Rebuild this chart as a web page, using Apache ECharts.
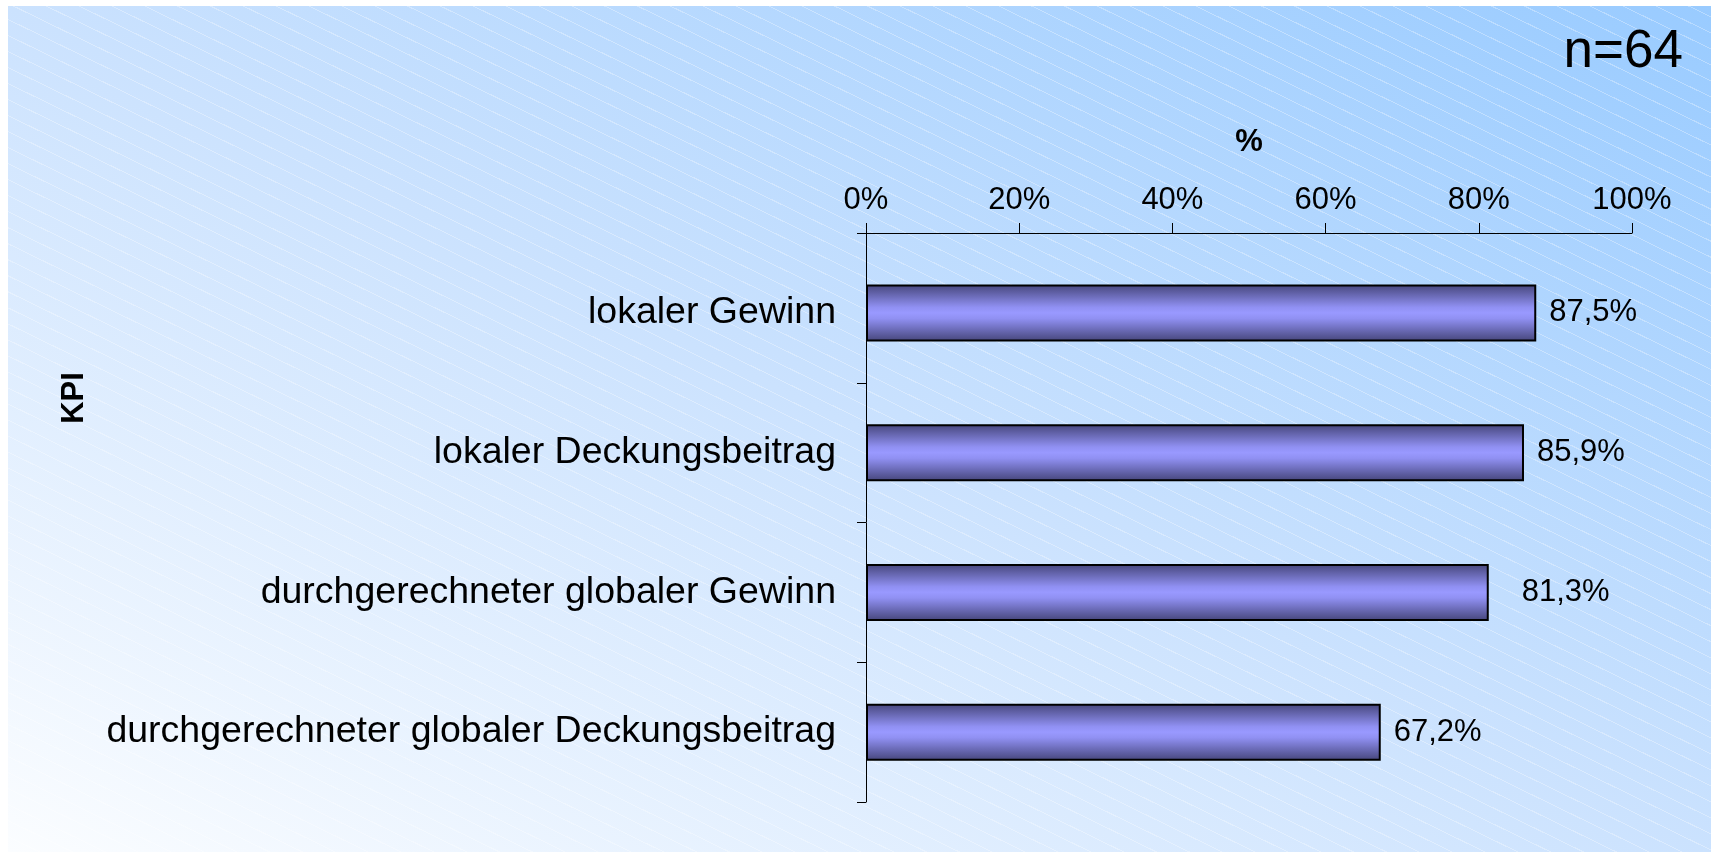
<!DOCTYPE html>
<html>
<head>
<meta charset="utf-8">
<script src="https://cdn.jsdelivr.net/npm/echarts@6/dist/echarts.min.js"></script>
<style>
  html, body { margin: 0; padding: 0; background: #fff; }
  #wrap { position: relative; width: 1712px; height: 852px; }
  #panel {
    position: absolute; left: 8px; top: 6px; right: 1px; bottom: 0;
    background:
      repeating-linear-gradient(26deg, rgba(255,255,255,0) 0 13.4px, rgba(255,255,255,0.3) 13.4px 14.4px),
      linear-gradient(to top right, #fbfdff 0%, #cbe2fe 50%, #99cbff 100%);
  }
  #chart { position: absolute; left: 0; top: 0; width: 1712px; height: 852px; }
</style>
</head>
<body>
<div id="wrap">
  <div id="panel"></div>
  <div id="chart"></div>
</div>
<script>
// KPI-Anteile, n=64
const categories = [
  "lokaler Gewinn",
  "lokaler Deckungsbeitrag",
  "durchgerechneter globaler Gewinn",
  "durchgerechneter globaler Deckungsbeitrag",
];
const values = [87.5, 85.9, 81.3, 67.2];
const sampleText = "n=64";
const FONT = "'Liberation Sans', Arial, sans-serif";

const gridLeft = 866, gridTop = 243, axisOffset = 10;

const chart = echarts.init(document.getElementById("chart"));

chart.setOption({
  backgroundColor: "transparent",
  animation: false,
  textStyle: { fontFamily: FONT, color: "#000" },
  graphic: [
    {
      type: "text",
      right: 29,
      top: 26,
      style: { text: sampleText, font: "53px " + FONT, fill: "#000" },
    },
    {
      // Achsentitel KPI
      type: "text",
      x: 74,
      y: 398,
      rotation: Math.PI / 2,
      style: {
        text: "KPI",
        font: "bold 31px " + FONT,
        fill: "#000",
        align: "center",
        verticalAlign: "middle",
      },
    },
    {
      // y-Achse bis zur oberen x-Achse verlängern
      type: "polyline",
      shape: {
        points: [
          [gridLeft - 9, gridTop - axisOffset + 0.5],
          [gridLeft + 0.5, gridTop - axisOffset + 0.5],
          [gridLeft + 0.5, gridTop],
        ],
      },
      style: { stroke: "#000", lineWidth: 1, fill: null },
    },
  ],
  grid: { left: gridLeft, right: 80, top: gridTop, bottom: 50, containLabel: false },
  xAxis: {
    type: "value",
    position: "top",
    offset: axisOffset,
    min: 0,
    max: 100,
    interval: 20,
    name: "%",
    nameLocation: "middle",
    nameGap: 75,
    nameTextStyle: { fontSize: 31, fontWeight: "bold", color: "#000", fontFamily: FONT },
    axisLine: { show: true, lineStyle: { color: "#000", width: 1 } },
    axisTick: { show: true, length: 10, lineStyle: { color: "#000" } },
    axisLabel: { fontSize: 31, color: "#000", margin: 17, formatter: "{value}%", fontFamily: FONT },
    splitLine: { show: false },
  },
  yAxis: {
    type: "category",
    inverse: true,
    data: categories,
    axisLine: { show: true, lineStyle: { color: "#000", width: 1 } },
    axisTick: {
      show: true,
      length: 9,
      interval: (idx) => idx !== 0,
      lineStyle: { color: "#000" },
    },
    axisLabel: { fontSize: 37.5, color: "#000", margin: 30, fontFamily: FONT },
  },
  series: [
    {
      type: "bar",
      barWidth: 57,
      data: values.map((v, i) => ({
        value: v,
        // das dritte Label steht im Original etwas weiter rechts
        label: { distance: i === 2 ? 33 : 13 },
      })),
      itemStyle: {
        borderColor: "#000",
        borderWidth: 2,
        color: new echarts.graphic.LinearGradient(0, 0, 0, 1, [
          { offset: 0, color: "#45457a" },
          { offset: 0.4, color: "#9090f2" },
          { offset: 0.5, color: "#9999ff" },
          { offset: 0.6, color: "#9090f2" },
          { offset: 1, color: "#45457a" },
        ]),
      },
      label: {
        show: true,
        position: "right",
        fontSize: 31,
        color: "#000",
        fontFamily: FONT,
        formatter: (p) => p.value.toFixed(1).replace(".", ",") + "%",
      },
    },
  ],
});
</script>
</body>
</html>
